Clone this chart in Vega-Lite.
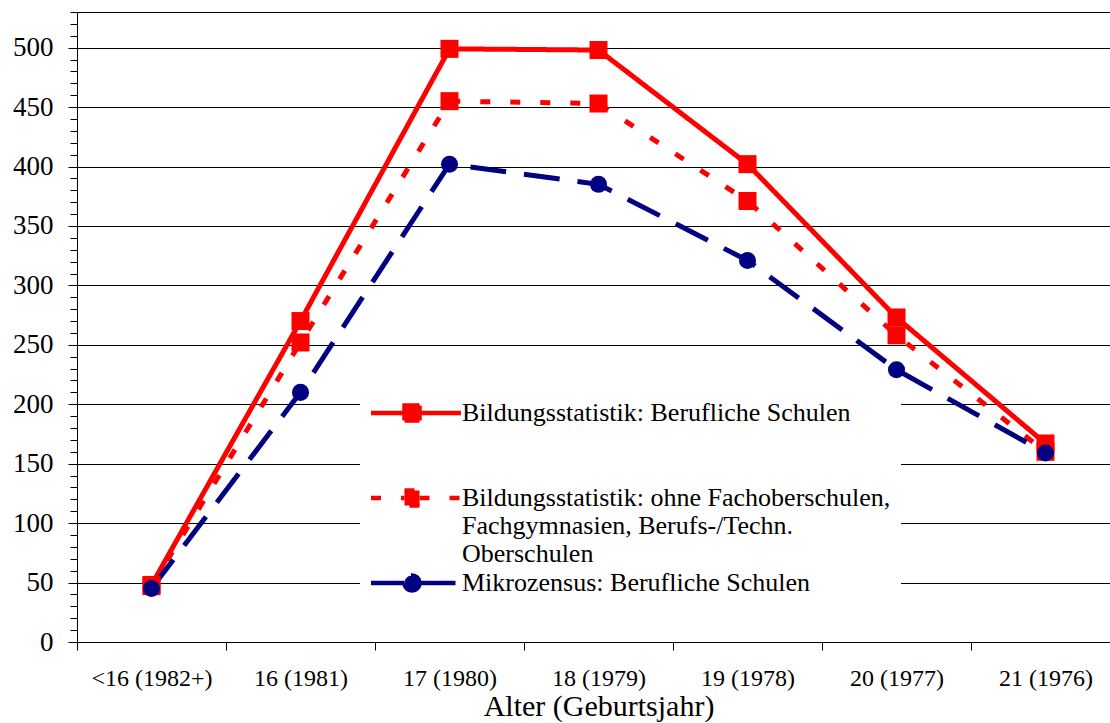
{
  "$schema": "https://vega.github.io/schema/vega-lite/v6.json",
  "width": 1033,
  "height": 630,
  "autosize": {"type": "none"},
  "padding": {"left": 77, "top": 12, "right": 0, "bottom": 81},
  "background": "white",
  "config": {
    "view": {"stroke": null},
    "font": "Liberation Serif",
    "axis": {"labelFont": "Liberation Serif", "titleFont": "Liberation Serif", "labelColor": "#000", "titleColor": "#000"}
  },
  "data": {
    "values": [
      {"age": "<16 (1982+)", "series": "Bildungsstatistik: Berufliche Schulen", "value": 48},
      {"age": "16 (1981)", "series": "Bildungsstatistik: Berufliche Schulen", "value": 270},
      {"age": "17 (1980)", "series": "Bildungsstatistik: Berufliche Schulen", "value": 499},
      {"age": "18 (1979)", "series": "Bildungsstatistik: Berufliche Schulen", "value": 498},
      {"age": "19 (1978)", "series": "Bildungsstatistik: Berufliche Schulen", "value": 402},
      {"age": "20 (1977)", "series": "Bildungsstatistik: Berufliche Schulen", "value": 273},
      {"age": "21 (1976)", "series": "Bildungsstatistik: Berufliche Schulen", "value": 167},
      {"age": "<16 (1982+)", "series": "Bildungsstatistik: ohne Fachoberschulen, Fachgymnasien, Berufs-/Techn. Oberschulen", "value": 47},
      {"age": "16 (1981)", "series": "Bildungsstatistik: ohne Fachoberschulen, Fachgymnasien, Berufs-/Techn. Oberschulen", "value": 252},
      {"age": "17 (1980)", "series": "Bildungsstatistik: ohne Fachoberschulen, Fachgymnasien, Berufs-/Techn. Oberschulen", "value": 455},
      {"age": "18 (1979)", "series": "Bildungsstatistik: ohne Fachoberschulen, Fachgymnasien, Berufs-/Techn. Oberschulen", "value": 453},
      {"age": "19 (1978)", "series": "Bildungsstatistik: ohne Fachoberschulen, Fachgymnasien, Berufs-/Techn. Oberschulen", "value": 371},
      {"age": "20 (1977)", "series": "Bildungsstatistik: ohne Fachoberschulen, Fachgymnasien, Berufs-/Techn. Oberschulen", "value": 258},
      {"age": "21 (1976)", "series": "Bildungsstatistik: ohne Fachoberschulen, Fachgymnasien, Berufs-/Techn. Oberschulen", "value": 160},
      {"age": "<16 (1982+)", "series": "Mikrozensus: Berufliche Schulen", "value": 45},
      {"age": "16 (1981)", "series": "Mikrozensus: Berufliche Schulen", "value": 210},
      {"age": "17 (1980)", "series": "Mikrozensus: Berufliche Schulen", "value": 402},
      {"age": "18 (1979)", "series": "Mikrozensus: Berufliche Schulen", "value": 385},
      {"age": "19 (1978)", "series": "Mikrozensus: Berufliche Schulen", "value": 321},
      {"age": "20 (1977)", "series": "Mikrozensus: Berufliche Schulen", "value": 229},
      {"age": "21 (1976)", "series": "Mikrozensus: Berufliche Schulen", "value": 159}
    ]
  },
  "layer": [
    {
      "mark": {"type": "line", "strokeWidth": 5},
      "encoding": {
        "x": {
          "field": "age", "type": "nominal", "sort": null, "bandPosition": 0.5,
          "scale": {"type": "band", "paddingInner": 0, "paddingOuter": 0, "range": [0, 1043]},
          "axis": {
            "orient": "bottom", "tickBand": "extent", "grid": false,
            "domain": true, "domainColor": "#000", "domainWidth": 1,
            "ticks": true, "tickSize": 8, "tickColor": "#000", "tickWidth": 1,
            "labelFontSize": 24, "labelPadding": 16, "labelAngle": 0, "labelOverlap": false,
            "title": "Alter (Geburtsjahr)", "titleFontSize": 30, "titleFontWeight": "normal", "titlePadding": 1
          }
        },
        "y": {
          "field": "value", "type": "quantitative",
          "scale": {"domain": [0, 530], "nice": false, "zero": true},
          "axis": {
            "values": [0, 50, 100, 150, 200, 250, 300, 350, 400, 450, 500],
            "grid": true, "gridColor": "#000", "gridWidth": 1, "gridOpacity": 1,
            "domain": true, "domainColor": "#000", "domainWidth": 1,
            "ticks": true, "tickSize": 9, "tickColor": "#000", "tickWidth": 1,
            "labelFontSize": 27, "labelPadding": 15, "labelOverlap": false, "title": null
          }
        },
        "color": {
          "field": "series", "type": "nominal",
          "scale": {
            "domain": ["Bildungsstatistik: Berufliche Schulen", "Bildungsstatistik: ohne Fachoberschulen, Fachgymnasien, Berufs-/Techn. Oberschulen", "Mikrozensus: Berufliche Schulen"],
            "range": ["#ff0000", "#ff0000", "#000080"]
          },
          "legend": {
            "orient": "none", "legendX": 283, "legendY": 378,
            "title": null, "fillColor": "white", "padding": 10,
            "labelFont": "Liberation Serif", "labelFontSize": 26, "labelColor": "#000",
            "labelLimit": 0, "labelLineHeight": 28, "labelOffset": 66,
            "symbolSize": 400, "symbolStrokeWidth": 4.5, "rowPadding": -1,
            "labelExpr": "datum.value == 'Mikrozensus: Berufliche Schulen' ? datum.label : datum.value == 'Bildungsstatistik: Berufliche Schulen' ? ['Bildungsstatistik: Berufliche Schulen', ' ', ' '] : ['Bildungsstatistik: ohne Fachoberschulen,', 'Fachgymnasien, Berufs-/Techn.', 'Oberschulen']",
            "encode": {
              "symbols": {
                "update": {
                  "shape": {"signal": "datum.value == 'Mikrozensus: Berufliche Schulen' ? 'M-1.2,0H2.15M3.65,0H7.8M2.15,0A0.75,0.75,0,1,0,3.65,0A0.75,0.75,0,1,0,2.15,0Z' : 'M-1.2,0H2.15M3.65,0H7.8M2.15,-0.75H3.65V0.75H2.15Z'"},
                  "fill": {"signal": "datum.value == 'Mikrozensus: Berufliche Schulen' ? '#000080' : '#ff0000'"},
                  "stroke": {"signal": "datum.value == 'Mikrozensus: Berufliche Schulen' ? '#000080' : '#ff0000'"},
                  "strokeDash": {"signal": "datum.value == 'Bildungsstatistik: Berufliche Schulen' ? [1, 0] : datum.value == 'Mikrozensus: Berufliche Schulen' ? [36, 18] : [10, 20]"},
                  "strokeWidth": {"value": 4.5},
                  "opacity": {"value": 1},
                  "fillOpacity": {"value": 1},
                  "strokeOpacity": {"value": 1}
                }
              }
            }
          }
        },
        "strokeDash": {
          "field": "series", "type": "nominal",
          "scale": {
            "domain": ["Bildungsstatistik: Berufliche Schulen", "Bildungsstatistik: ohne Fachoberschulen, Fachgymnasien, Berufs-/Techn. Oberschulen", "Mikrozensus: Berufliche Schulen"],
            "range": [[1, 0], [10, 20], [36, 18]]
          },
          "legend": null
        }
      }
    },
    {
      "transform": [{"filter": "datum.series != 'Mikrozensus: Berufliche Schulen'"}],
      "mark": {"type": "point", "filled": true, "opacity": 1, "strokeWidth": 0, "shape": "square", "size": 324},
      "encoding": {
        "x": {
          "field": "age", "type": "nominal", "sort": null, "bandPosition": 0.5,
          "axis": {"orient": "top", "labels": false, "ticks": false, "grid": false, "domain": true, "domainColor": "#000", "domainWidth": 1, "title": null}
        },
        "y": {
          "field": "value", "type": "quantitative",
          "axis": {
            "orient": "left",
            "values": [0, 10, 20, 30, 40, 50, 60, 70, 80, 90, 100, 110, 120, 130, 140, 150, 160, 170, 180, 190, 200, 210, 220, 230, 240, 250, 260, 270, 280, 290, 300, 310, 320, 330, 340, 350, 360, 370, 380, 390, 400, 410, 420, 430, 440, 450, 460, 470, 480, 490, 500, 510, 520, 530],
            "labels": false, "grid": false, "domain": false, "ticks": true, "tickSize": 7, "tickColor": "#000", "tickWidth": 1, "title": null
          }
        },
        "color": {"field": "series", "type": "nominal"}
      }
    },
    {
      "transform": [{"filter": "datum.series == 'Mikrozensus: Berufliche Schulen'"}],
      "mark": {"type": "point", "filled": true, "opacity": 1, "strokeWidth": 0, "shape": "circle", "size": 290},
      "encoding": {
        "x": {"field": "age", "type": "nominal", "sort": null, "bandPosition": 0.5, "axis": null},
        "y": {"field": "value", "type": "quantitative", "axis": null},
        "color": {"field": "series", "type": "nominal"}
      }
    }
  ],
  "resolve": {"axis": {"x": "independent", "y": "independent"}}
}
